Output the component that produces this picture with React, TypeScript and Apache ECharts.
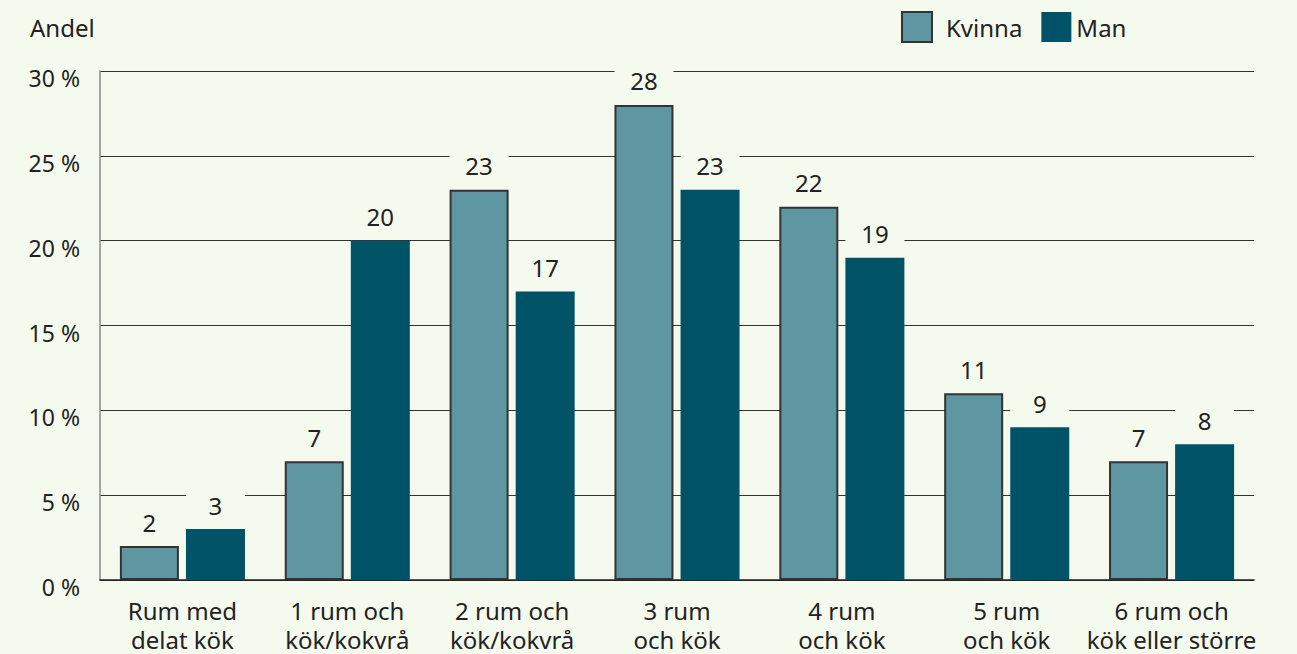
import React, { useEffect, useRef } from "react";
import * as echarts from "echarts";

const categories = [
  "Rum med\ndelat kök",
  "1 rum och\nkök/kokvrå",
  "2 rum och\nkök/kokvrå",
  "3 rum\noch kök",
  "4 rum\noch kök",
  "5 rum\noch kök",
  "6 rum och\nkök eller större",
];
const kvinna = [2, 7, 23, 28, 22, 11, 7];
const man = [3, 20, 17, 23, 19, 9, 8];
const yTicks = [0, 5, 10, 15, 20, 25, 30];

const BG = "#f5faef";
const FONT = "'Noto Sans', 'Open Sans', sans-serif";

export default function App() {
  const ref = useRef<HTMLDivElement>(null);
  useEffect(() => {
    const chart = echarts.init(ref.current!, null, { renderer: "svg" });
    const label = {
      show: true,
      position: "top",
      distance: 12,
      fontSize: 24,
      fontFamily: FONT,
      color: "#222",
      backgroundColor: BG,
      width: 59,
      align: "center",
      padding: [2, 0, 0, 0],
    };
    chart.setOption({
      animation: false,
      backgroundColor: BG,
      textStyle: { fontFamily: FONT },
      legend: {
        top: 6,
        left: 896,
        itemWidth: 30,
        itemHeight: 30,
        itemGap: 19,
        icon: "rect",
        textStyle: { fontSize: 24, color: "#222", fontFamily: FONT },
        data: [
          { name: "Kvinna", textStyle: { padding: [0, 0, 0, 9] } },
          { name: "Man" },
        ],
      },
      grid: { left: 100, right: 43, top: 71, bottom: 74 },
      xAxis: {
        type: "category",
        data: categories,
        axisLine: { lineStyle: { color: "#222", width: 1.5 } },
        axisTick: { show: false },
        axisLabel: {
          fontSize: 24,
          color: "#222",
          fontFamily: FONT,
          lineHeight: 29,
          margin: 16,
          interval: 0,
        },
      },
      yAxis: {
        type: "value",
        min: 0,
        max: 30,
        interval: 5,
        name: "Andel",
        nameLocation: "end",
        nameGap: 32,
        nameTextStyle: { fontSize: 24, color: "#222", fontFamily: FONT, align: "left", padding: [0, 0, 0, -70] },
        axisLine: { show: true, lineStyle: { color: "#888", width: 1.5 } },
        axisTick: { show: false },
        splitLine: { lineStyle: { color: "#333", width: 1 } },
        axisLabel: {
          fontSize: 23,
          color: "#222",
          fontFamily: FONT,
          margin: 20,
          verticalAlign: "top",
          lineHeight: 14,
          formatter: (v: number) => (yTicks.includes(v) ? `${v} %` : ""),
        },
      },
      series: [
        {
          name: "Kvinna",
          type: "bar",
          data: kvinna,
          barWidth: 59,
          barGap: "12%",
          itemStyle: { color: "#5e97a1", borderColor: "#333", borderWidth: 2 },
          label,
        },
        {
          name: "Man",
          type: "bar",
          data: man,
          barWidth: 59,
          itemStyle: { color: "#005266" },
          label,
        },
      ],
    });
    return () => chart.dispose();
  }, []);
  return (
    <div
      ref={ref}
      style={{ position: "fixed", left: 0, top: 0, width: 1297, height: 654 }}
    />
  );
}
